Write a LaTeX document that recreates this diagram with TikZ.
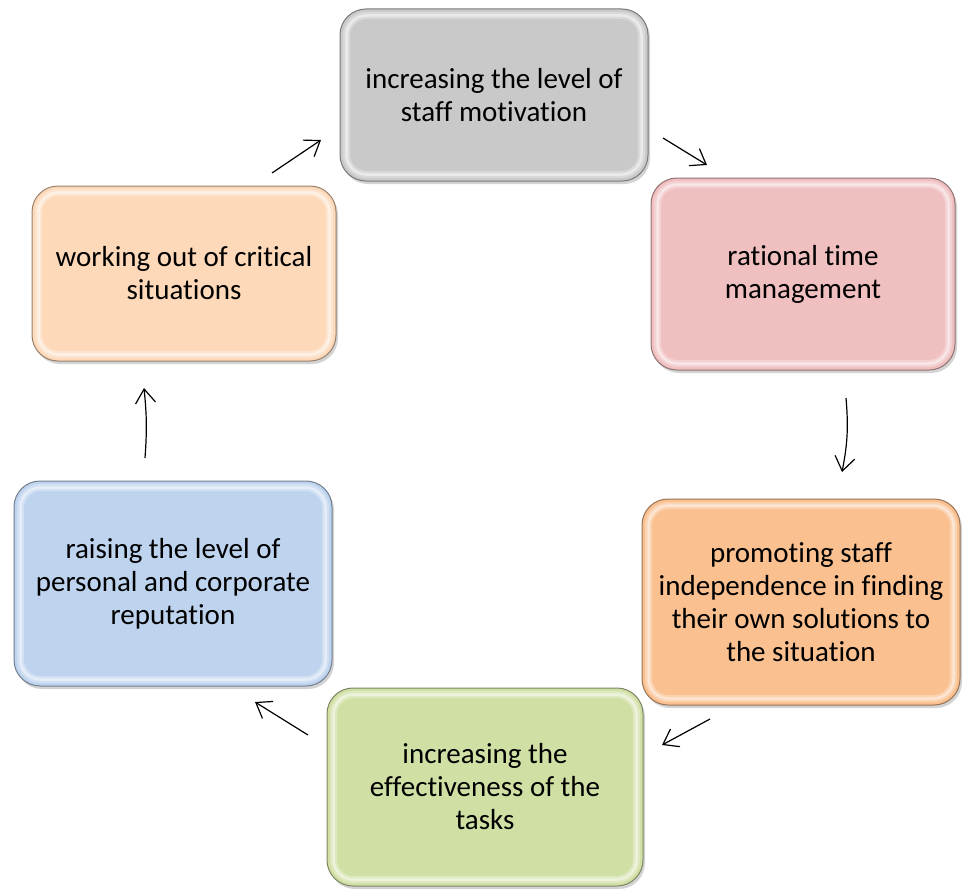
\documentclass[tikz,border=0pt]{standalone}
\usepackage{fontspec}
\setmainfont{Carlito}[Ligatures=NoCommon]
\usetikzlibrary{shadows,arrows.meta,calc}
\newcommand\myzk{\kern0pt }
\definecolor{cgray}{HTML}{C9C9C9}
\definecolor{cpink}{HTML}{F0BFC0}
\definecolor{corange}{HTML}{FAC08F}
\definecolor{cgreen}{HTML}{D0E0A5}
\definecolor{cblue}{HTML}{BED3EE}
\definecolor{cpeach}{HTML}{FDD9B9}
\tikzset{
  box/.style={draw=#1!60!black, line width=1pt, fill=#1, rounded corners=26pt,
    align=center, font=\fontsize{29}{33}\selectfont, inner sep=0pt,
    drop shadow={shadow xshift=2pt, shadow yshift=-3pt, opacity=.35}},
  bevelsoft/.style={white, opacity=.3, line width=7pt, rounded corners=20pt},
  bevel/.style={white, opacity=.45, line width=2.5pt, rounded corners=20pt},
  conn/.style={line width=1.2pt, -{Straight Barb[length=14pt,width=20pt,line width=1.2pt]}},
}
\begin{document}
\begin{tikzpicture}[x=1pt,y=-1pt]
\useasboundingbox (0,0) rectangle (963,891);
\node[box=cgray, minimum width=308pt, minimum height=172pt] (b1) at (494,95) {increasing the level of\\staff mot\myzk ivat\myzk ion};
\node[box=cpink, minimum width=304pt, minimum height=192pt] (b2) at (803,274) {rat\myzk ional t\myzk ime\\management};
\node[box=corange, minimum width=318pt, minimum height=206pt] (b3) at (801,602) {promot\myzk ing staff\\independence in finding\\their own solut\myzk ions to\\the situat\myzk ion};
\node[box=cgreen, minimum width=316pt, minimum height=198pt] (b4) at (485,787) {increasing the\\effect\myzk iveness of the\\tasks};
\node[box=cblue, minimum width=318pt, minimum height=205pt] (b5) at (173,583.5) {raising the level of\\personal and corporate\\reputat\myzk ion};
\node[box=cpeach, minimum width=304pt, minimum height=175pt] (b6) at (184,273.5) {working out of crit\myzk ical\\situat\myzk ions};
\foreach \n in {b1,b2,b3,b4,b5,b6}{
  \draw[bevelsoft] ($(\n.north west)+(7,7)$) rectangle ($(\n.south east)+(-7,-7)$);
  \draw[bevel] ($(\n.north west)+(7,7)$) rectangle ($(\n.south east)+(-7,-7)$);
}
\coordinate (a1s) at (272,173); \coordinate (a1e) at (321,140);
\coordinate (a2s) at (663,138); \coordinate (a2e) at (707,165);
\coordinate (a3s) at (846,398); \coordinate (a3e) at (842,472);
\coordinate (a4s) at (710,719); \coordinate (a4e) at (662,745);
\coordinate (a5s) at (308,735); \coordinate (a5e) at (255,702);
\coordinate (a6s) at (145,458); \coordinate (a6e) at (144,388);
\draw[conn] (a1s) -- (a1e);
\draw[conn] (a2s) -- (a2e);
\draw[conn] (a3s) to[bend left=8] (a3e);
\draw[conn] (a4s) -- (a4e);
\draw[conn] (a5s) -- (a5e);
\draw[conn] (a6s) to[bend right=5] (a6e);
\end{tikzpicture}
\end{document}
